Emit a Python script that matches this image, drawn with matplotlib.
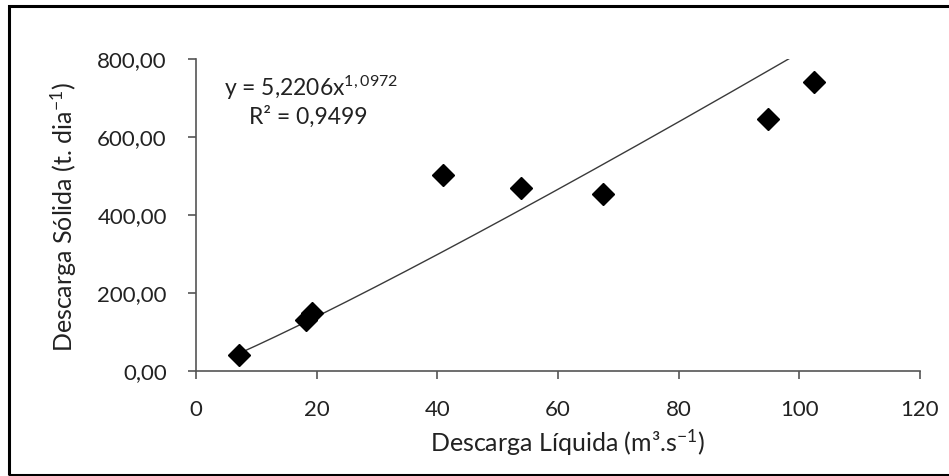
import matplotlib
matplotlib.use("Agg")
import matplotlib.pyplot as plt
import numpy as np
from matplotlib.patches import Rectangle
from matplotlib.ticker import FuncFormatter

plt.rcParams['font.family'] = ['Lato', 'DejaVu Sans']
plt.rcParams['mathtext.default'] = 'regular'

# Data
descarga_liquida = [7.1, 18.3, 19.3, 41.0, 53.8, 67.4, 94.8, 102.4]
descarga_solida = [40, 131, 148, 502, 470, 453, 646, 742]
fit_a = 5.2206
fit_b = 1.0972
eq_text = "y = 5,2206x$^{1,0972}$"
r2_text = "R² = 0,9499"
x_ticks = [0, 20, 40, 60, 80, 100, 120]
y_ticks = [0, 200, 400, 600, 800]

W, H = 949, 476
fig = plt.figure(figsize=(W / 100, H / 100), dpi=100)
ax = fig.add_axes([196 / W, 1 - 371 / H, (920 - 196) / W, (371 - 59.3) / H])

# trend line
xf = np.linspace(min(descarga_liquida), max(descarga_liquida), 300)
yf = fit_a * xf ** fit_b
ax.plot(xf, yf, color='#3a3a3a', lw=1.0, zorder=2)

ax.plot(descarga_liquida, descarga_solida, linestyle='none', marker='D',
        markersize=11.5, color='black', zorder=3)

ax.set_xlim(0, 120)
ax.set_ylim(0, 800)
ax.set_xticks(x_ticks)
ax.set_yticks(y_ticks)
ax.yaxis.set_major_formatter(FuncFormatter(lambda v, p: f"{v:.2f}".replace('.', ',')))

spine_col = '#555555'
for s in ['top', 'right']:
    ax.spines[s].set_visible(False)
for s in ['left', 'bottom']:
    ax.spines[s].set_color(spine_col)
    ax.spines[s].set_linewidth(1.2)
ax.tick_params(direction='out', length=6, width=1.2, color=spine_col,
               labelsize=16, labelcolor='#222222')
ax.tick_params(axis='x', pad=15)
ax.tick_params(axis='y', pad=15)

ax.set_xlabel("Descarga Líquida (m³.s$^{-1}$)", fontsize=18, color='#222222')
ax.set_ylabel("Descarga Sólida (t. dia$^{-1}$)", fontsize=18, color='#222222')
ax.xaxis.set_label_coords(568 / W, 1 - 443 / H, transform=fig.transFigure)
ax.yaxis.set_label_coords(64 / W, 1 - 217 / H, transform=fig.transFigure)
ax.xaxis.label.set_va('center')
ax.yaxis.label.set_va('center')

fig.text(224 / W, 1 - 88 / H, eq_text, fontsize=16.5, color='#222222', va='center', ha='left')
fig.text(249 / W, 1 - 117 / H, r2_text, fontsize=16.5, color='#222222', va='center', ha='left')

# outer border
fig.patches.append(Rectangle((9 / W, 1.5 / H), 1.2, 1 - 7 / H, transform=fig.transFigure,
                             fill=False, edgecolor='black', lw=2.2))

fig.savefig("out.png", dpi=100)
